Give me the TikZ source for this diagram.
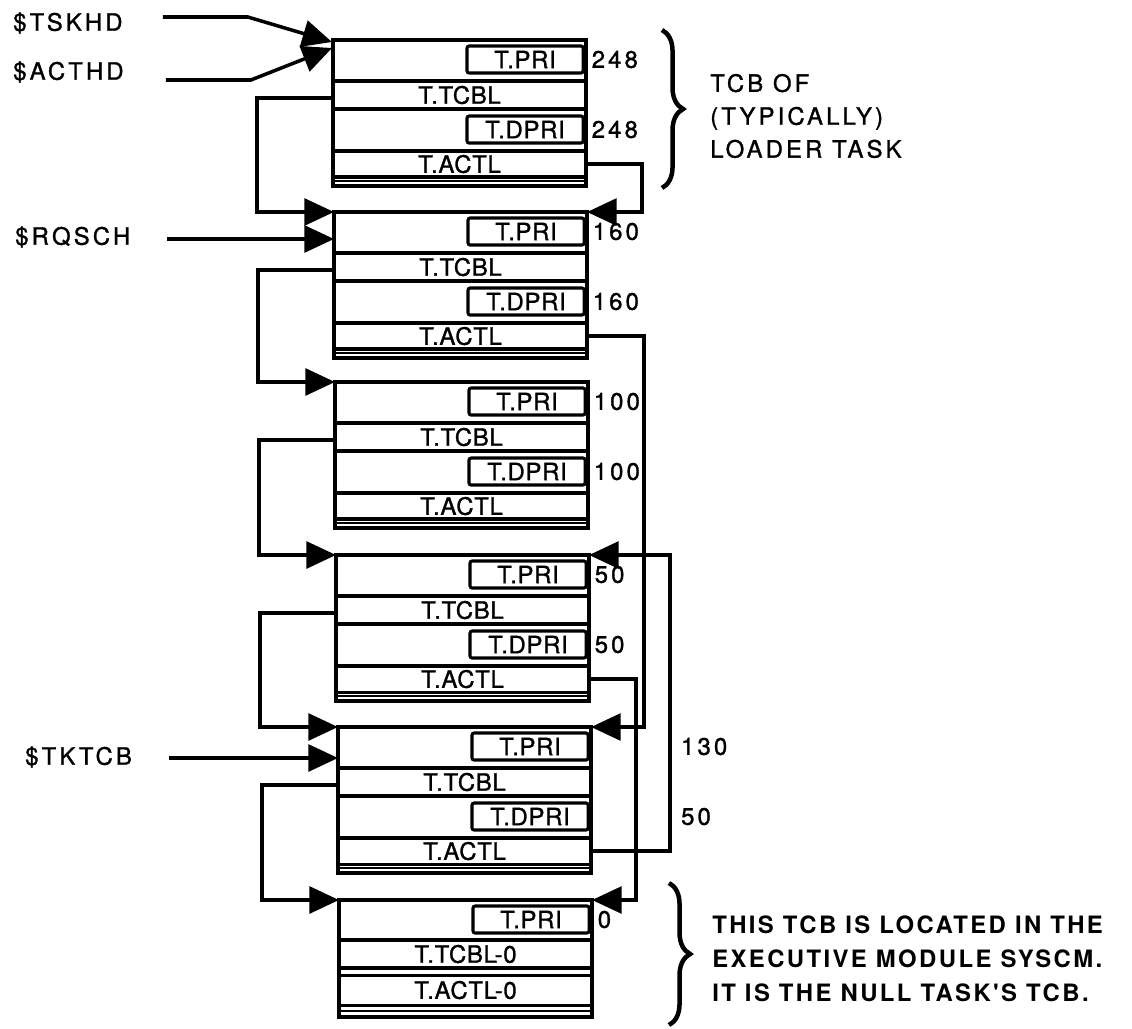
\documentclass[tikz,border=0pt]{standalone}
\usepackage{fontspec}
\setmainfont{TeX Gyre Heros}[LetterSpace=3, FakeBold=1.2]
\newfontfamily\widefont{TeX Gyre Heros}[LetterSpace=13, FakeBold=1.2]
\newfontfamily\notefont{TeX Gyre Heros}[LetterSpace=10]
\usetikzlibrary{arrows.meta, positioning, calc, decorations.pathreplacing}

\begin{document}
\begin{tikzpicture}[
    x=0.025cm, y=-0.025cm,
    tcb/.style={
        rectangle,
        draw,
        line width=3pt,
        minimum width=6.325cm,
        inner sep=0pt,
        outer sep=0pt
    },
    field/.style={
        rectangle,
        draw,
        line width=2.2pt,
        minimum width=6.325cm,
        inner sep=0pt,
        outer sep=0pt,
        font=\fontsize{17}{20}\selectfont
    },
    pribox/.style={
        rectangle,
        draw,
        line width=2.2pt,
        rounded corners=1.5pt,
        minimum width=2.9cm,
        minimum height=0.675cm,
        inner sep=0pt,
        outer sep=0pt,
        font=\fontsize{17}{20}\selectfont
    },
    num/.style={inner sep=0pt, font=\widefont\fontsize{17}{20}\selectfont},
    head/.style={inner sep=0pt, font=\widefont\fontsize{17}{20}\selectfont},
    note/.style={inner sep=0pt, align=left, font=\widefont\fontsize{17}{23.4}\selectfont},
    link/.style={
        -{Triangle[length=21pt, width=19pt]},
        line width=2.5pt
    },
    curly/.style={decorate, decoration={brace, amplitude=15pt}, line width=3.2pt}
]
\useasboundingbox (0,0) rectangle (1132,1028);

\foreach \n/\l/\t/\p/\d/\g in {1/333/40/248/248/6pt, 2/334/212/160/160/6pt, 3/335/382/100/100/6pt, 4/336/555/50/50/6pt, 5/338/727/130/50/66pt} {
    \node[tcb, minimum height=3.65cm, anchor=north west] (t\n) at (\l,\t) {};
    \node[field, minimum height=1.025cm, anchor=north] (pri\n) at (t\n.north) {};
    \node[field, minimum height=0.7cm, below=0pt of pri\n] (tcbl\n) {T.TCBL};
    \node[field, minimum height=1.05cm, below=0pt of tcbl\n] (dpri\n) {};
    \node[field, minimum height=0.65cm, below=0pt of dpri\n] (actl\n) {T.ACTL};
    \draw[line width=2pt] ($(actl\n.south west)+(0,4)$) -- ($(actl\n.south east)+(0,4)$);
    \node[pribox, anchor=north east] (prib\n) at ([shift={(-3,6)}]t\n.north east) {T.PRI};
    \node[pribox, anchor=north east] (dprib\n) at ([shift={(-3,7)}]dpri\n.north east) {T.DPRI};
    \node[num, right=6pt of prib\n, xshift=\g-6pt] (np\n) {\p};
    \node[num, right=6pt of dprib\n, xshift=\g-6pt] (nd\n) {\d};
}

\node[tcb, minimum height=2.925cm, anchor=north west] (t6) at (339,900) {};
\node[field, minimum height=1cm, anchor=north] (pri6) at (t6.north) {};
\node[field, minimum height=0.7cm, below=0pt of pri6] (tcbl6) {T.TCBL-0};
\node[field, minimum height=0.75cm, below=5pt of tcbl6] (actl6) {T.ACTL-0};
\draw[line width=2pt] ($(actl6.south west)+(0,6)$) -- ($(actl6.south east)+(0,6)$);
\node[pribox, anchor=north east] (prib6) at ([shift={(-3,6)}]t6.north east) {T.PRI};
\node[num, right=6pt of prib6] (np6) {0};

\node[head, anchor=west] (tskhd) at (13,23) {\$TSKHD};
\node[head, anchor=west] (acthd) at (13,72) {\$ACTHD};
\node[head, anchor=west] (rqsch) at (15,237) {\$RQSCH};
\node[head, anchor=west] (tktcb) at (25,757) {\$TKTCB};

\draw[link] ($(tskhd.east)+(40,-6)$) -- ++(85,0) -- ($(t1.north west)+(-1,2)$);
\draw[link] ($(acthd.east)+(42,8)$) -- ++(85,0) -- ($(t1.north west)+(-1,8)$);
\draw[link] ($(rqsch.east)+(37,2)$) -- ($(t2.north west)+(0,27)$);
\draw[link] ($(tktcb.east)+(37,1)$) -- ($(t5.north west)+(0,31)$);

\foreach \a/\b in {1/2, 2/3, 3/4, 4/5, 5/6}
    \draw[link] ([yshift=-2pt]tcbl\a.west) -- ++(-76,0) |- (t\b.north west);

\draw[link] (actl1.east) -- ++(56,0) |- (t2.north east);
\draw[link] (actl2.east) -- ++(57,0) |- (t5.north east);
\draw[link] (actl5.east) -- ++(79,0) |- (t4.north east);
\draw[link] (actl4.east) -- ++(47,0) |- (t6.north east);

\draw[curly] (662,30) -- (662,188);
\node[note, anchor=west] (loader) at (710,116) {TCB OF\\(TYPICALLY)\\LOADER TASK};

\draw[curly] (669,883) -- (669,1025);
\node[note, anchor=west, font=\notefont\bfseries\fontsize{17}{24}\selectfont] (nulltcb) at (712,959) {THIS TCB IS LOCATED IN THE\\EXECUTIVE MODULE SYSCM.\\IT IS THE NULL TASK'S TCB.};

\end{tikzpicture}
\end{document}
